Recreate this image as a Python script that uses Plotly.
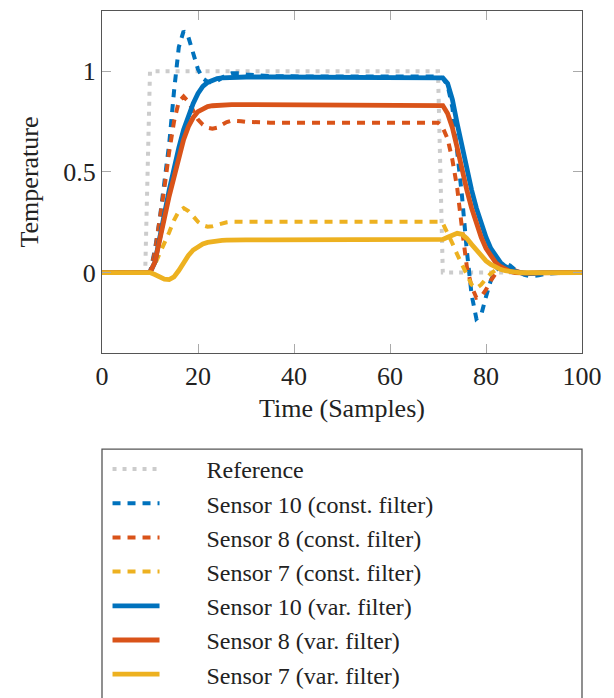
import plotly.graph_objects as go

# Sample positions (time, samples)
samples = [0, 9, 10, 11, 12, 13, 14, 15, 16, 17, 18, 19, 20, 21, 22, 23, 24, 25, 26, 27, 28, 29, 30,
           35, 45, 55, 65, 69,
           70, 71, 72, 73, 74, 75, 76, 77, 78, 79, 80, 81, 82, 83, 84, 85, 86, 87, 88, 89, 90, 91, 92,
           96, 100]

reference = [0, 0] + [1] * 21 + [1] * 5 + [1] + [0] * 22 + [0, 0]

s10_const = [0, 0, 0, 0.11, 0.26, 0.45, 0.64, 0.9, 1.12, 1.2, 1.17, 1.09, 1.01, 0.965, 0.948, 0.945,
             0.952, 0.968, 0.982, 0.99, 0.992, 0.99, 0.985,
             0.976, 0.974, 0.974, 0.974, 0.974,
             0.974, 0.965, 0.93, 0.82, 0.62, 0.38, 0.11, -0.11, -0.23, -0.21, -0.12, -0.04, 0.01, 0.035,
             0.045, 0.035, 0.015, 0.0, -0.012, -0.018, -0.018, -0.014, -0.008,
             0, 0]

s8_const = [0, 0, 0, 0.1, 0.25, 0.42, 0.6, 0.75, 0.85, 0.875, 0.85, 0.8, 0.76, 0.735, 0.72, 0.715,
            0.72, 0.735, 0.748, 0.755, 0.755, 0.752, 0.749,
            0.745, 0.745, 0.745, 0.745, 0.745,
            0.745, 0.72, 0.665, 0.56, 0.42, 0.22, 0.03, -0.07, -0.125, -0.12, -0.085, -0.04, -0.005,
            0.015, 0.022, 0.018, 0.01, 0.002, -0.004, -0.007, -0.007, -0.005, -0.003,
            0, 0]

s7_const = [0, 0, 0, 0.04, 0.09, 0.14, 0.2, 0.26, 0.305, 0.32, 0.305, 0.28, 0.252, 0.235, 0.228, 0.23,
            0.238, 0.245, 0.25, 0.253, 0.254, 0.253, 0.252,
            0.252, 0.252, 0.252, 0.252, 0.252,
            0.252, 0.245, 0.2, 0.145, 0.09, 0.04, -0.02, -0.06, -0.078, -0.06, -0.03, -0.005, 0.012,
            0.018, 0.016, 0.01, 0.004, 0.0, -0.003, -0.004, -0.003, -0.002, 0,
            0, 0]

s10_var = [0, 0, 0, 0.05, 0.16, 0.29, 0.41, 0.52, 0.62, 0.71, 0.78, 0.84, 0.89, 0.925, 0.945, 0.957,
           0.964, 0.968, 0.97, 0.971, 0.972, 0.972, 0.972,
           0.972, 0.972, 0.972, 0.972, 0.972,
           0.972, 0.968, 0.94, 0.86, 0.74, 0.62, 0.51, 0.41, 0.32, 0.24, 0.175, 0.12, 0.08, 0.05,
           0.03, 0.015, 0.006, 0.0, -0.004, -0.005, -0.004, -0.002, 0,
           0, 0]

s8_var = [0, 0, 0, 0.05, 0.15, 0.27, 0.38, 0.47, 0.56, 0.66, 0.725, 0.77, 0.8, 0.815, 0.825, 0.829,
          0.832, 0.834, 0.835, 0.835, 0.835, 0.835, 0.835,
          0.835, 0.835, 0.835, 0.835, 0.835,
          0.835, 0.83, 0.79, 0.72, 0.62, 0.51, 0.41, 0.32, 0.24, 0.175, 0.12, 0.08, 0.05, 0.03,
          0.015, 0.006, 0.0, -0.003, -0.004, -0.003, -0.002, -0.001, 0,
          0, 0]

s7_var = [0, 0, 0, -0.01, -0.022, -0.033, -0.035, -0.022, 0.01, 0.05, 0.085, 0.112, 0.13, 0.142, 0.15,
          0.155, 0.158, 0.16, 0.161, 0.162, 0.162, 0.162, 0.162,
          0.162, 0.162, 0.162, 0.162, 0.162,
          0.162, 0.165, 0.175, 0.188, 0.195, 0.19, 0.17, 0.14, 0.11, 0.082, 0.058, 0.04, 0.026,
          0.016, 0.009, 0.004, 0.001, 0, -0.001, -0.001, 0, 0, 0,
          0, 0]

series_names = ["Reference", "Sensor 10 (const. filter)", "Sensor 8 (const. filter)",
                "Sensor 7 (const. filter)", "Sensor 10 (var. filter)", "Sensor 8 (var. filter)",
                "Sensor 7 (var. filter)"]
series_values = [reference, s10_const, s8_const, s7_const, s10_var, s8_var, s7_var]

x_ticks = [0, 20, 40, 60, 80, 100]
y_ticks = [0, 0.5, 1]
y_tick_labels = ["0", "0.5", "1"]

BLUE, ORANGE, YELLOW, GREY = "#0072BD", "#D95319", "#EDB120", "#CCCCCC"
styles = [
    dict(color=GREY, width=4, dash="4px,6px"),
    dict(color=BLUE, width=4, dash="8px,7px"),
    dict(color=ORANGE, width=4, dash="8px,7px"),
    dict(color=YELLOW, width=4, dash="8px,7px"),
    dict(color=BLUE, width=4.8),
    dict(color=ORANGE, width=4.8),
    dict(color=YELLOW, width=4.8),
]

FONT = "Liberation Serif, Times New Roman, serif"
PAD = "\u00a0" * 7
fig = go.Figure()
for name, vals, st in zip(series_names, series_values, styles):
    fig.add_trace(go.Scatter(x=samples, y=vals, mode="lines", name=PAD + name, line=st))

axis_common = dict(showline=True, linecolor="#555555", linewidth=1.3, mirror="ticks",
                   ticks="inside", ticklen=9, tickcolor="#aaaaaa", tickwidth=1.3,
                   showgrid=False, zeroline=False,
                   tickfont=dict(family=FONT, size=26, color="#222222"))

fig.update_layout(
    width=614, height=698,
    margin=dict(l=94, r=40, t=3, b=353, autoexpand=False),
    paper_bgcolor="white", plot_bgcolor="white",
    font=dict(family=FONT, size=26, color="#222222"),
    xaxis=dict(range=[0, 100], tickvals=x_ticks,
               title=dict(text="Time (Samples)", font=dict(family=FONT, size=26), standoff=8),
               **axis_common),
    yaxis=dict(range=[-0.4, 1.3], tickvals=y_ticks, ticktext=y_tick_labels,
               title=dict(text="Temperature", font=dict(family=FONT, size=26), standoff=17),
               **axis_common),
    legend=dict(x=0.0115, y=-0.2746, xanchor="left", yanchor="top",
                bgcolor="rgba(0,0,0,0)", borderwidth=0,
                font=dict(family=FONT, size=24, color="#222222"),
                itemwidth=47, tracegroupgap=0),
    shapes=[dict(type="rect", xref="paper", yref="paper", x0=0, x1=1, y0=-0.281, y1=-1.2,
                 line=dict(color="#555555", width=1.3), fillcolor="rgba(0,0,0,0)", layer="below")],
)

fig.write_html("out.html")
